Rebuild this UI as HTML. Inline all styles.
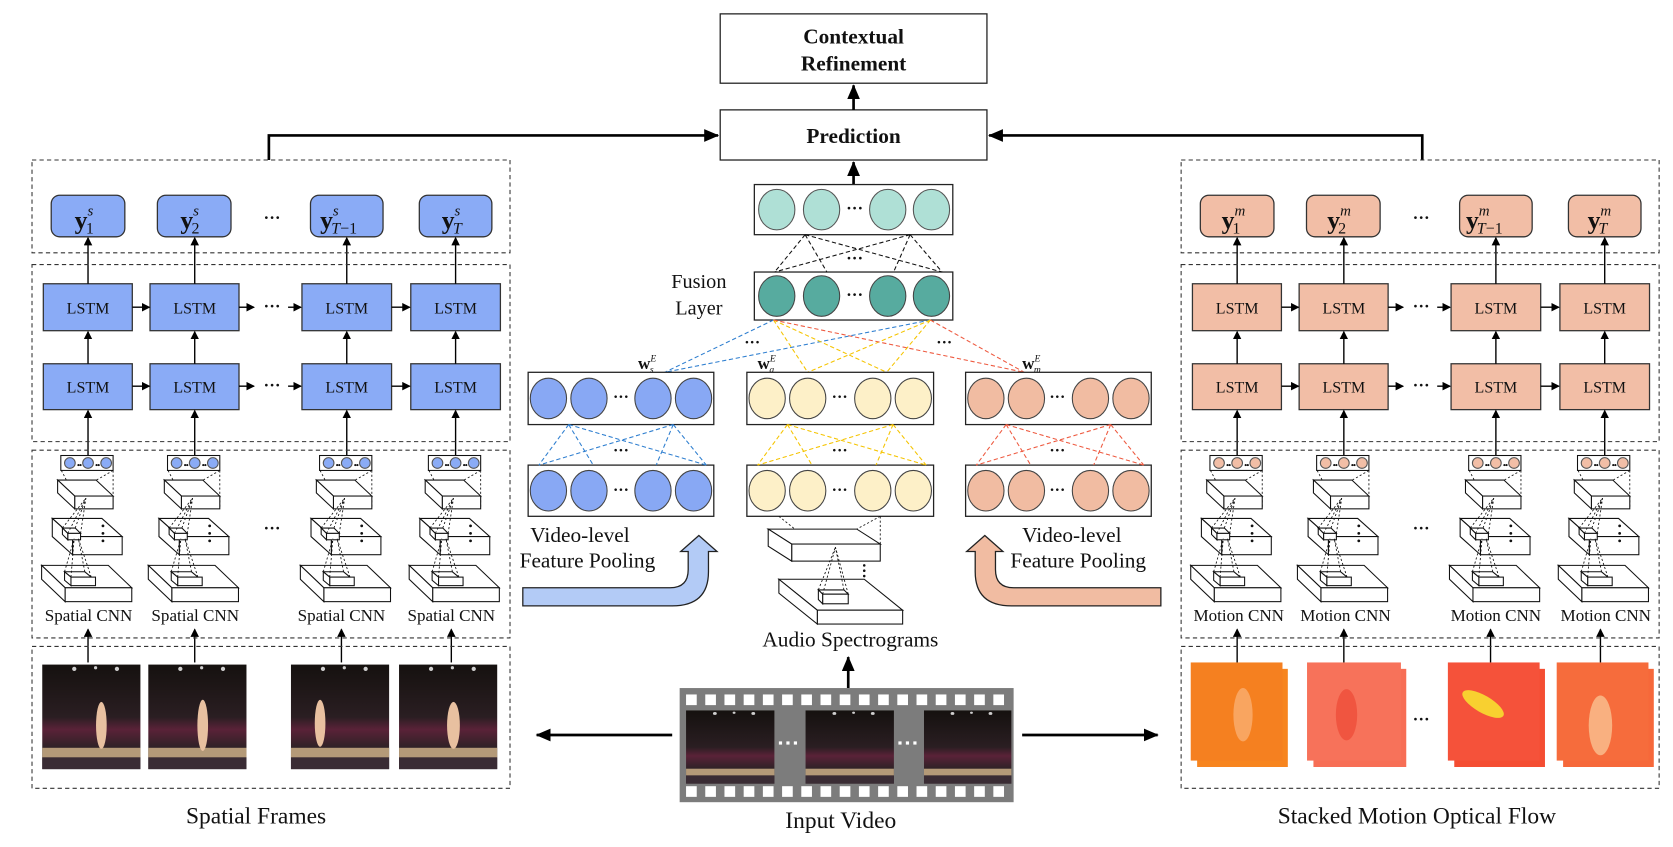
<!DOCTYPE html>
<html><head><meta charset="utf-8"><style>
html,body{margin:0;padding:0;background:#fff;}
svg{display:block;}
text{font-family:"Liberation Serif",serif;fill:#111;}
</style></head><body>
<svg width="1673" height="847" viewBox="0 0 1568 794" preserveAspectRatio="none" xmlns="http://www.w3.org/2000/svg">
<defs>
<marker id="ah" markerWidth="8" markerHeight="8" refX="7" refY="4" orient="auto" markerUnits="userSpaceOnUse"><path d="M0,0 L8,4 L0,8 z" fill="#000"/></marker>
<marker id="ahb" markerWidth="14" markerHeight="12" refX="13" refY="6" orient="auto" markerUnits="userSpaceOnUse"><path d="M0,0 L14,6 L0,12 z" fill="#000"/></marker>
<g id="cnn" fill="#fff" stroke="#111" stroke-width="1">
  <rect x="-25.5" y="427" width="49" height="14"/>
  <circle cx="-17" cy="434" r="5" fill="currentColor" stroke="#555"/>
  <circle cx="0" cy="434" r="5" fill="currentColor" stroke="#555"/>
  <circle cx="17" cy="434" r="5" fill="currentColor" stroke="#555"/>
  <g fill="#111" stroke="none"><circle cx="-9" cy="436" r="1"/><circle cx="-7" cy="436" r="1"/><circle cx="8" cy="436" r="1"/><circle cx="10" cy="436" r="1"/></g>
  <g stroke-dasharray="2,2" stroke-width="0.8"><line x1="-25" y1="441" x2="-12.5" y2="465"/><line x1="23.5" y1="441" x2="23.5" y2="477"/><line x1="23.5" y1="441" x2="8" y2="450"/></g>
  <!-- top slab -->
  <polygon points="-28.5,450 7.5,450 23.5,465 -12.5,465"/>
  <rect x="-12.5" y="465" width="36" height="12"/>
  <polygon points="-28.5,450 -12.5,465 -12.5,477 -28.5,462"/>
  <!-- mid slab -->
  <polygon points="-33.5,486 13,486 32,503 -14.5,503"/>
  <rect x="-14.5" y="503" width="46.5" height="17"/>
  <polygon points="-33.5,486 -14.5,503 -14.5,520 -33.5,503"/>
  <polygon points="-24,495 -12,495 -7,500 -19,500"/>
  <rect x="-19" y="500" width="12" height="6"/>
  <polygon points="-24,495 -19,500 -19,506 -24,501"/>
  <g stroke-dasharray="2,2" stroke-width="0.8"><line x1="-24" y1="495" x2="-2" y2="467"/><line x1="-12" y1="495" x2="-2" y2="467"/><line x1="-7" y1="500" x2="-2" y2="467"/><line x1="-19" y1="500" x2="-2" y2="467"/></g>
  <g fill="#111" stroke="none"><circle cx="14" cy="493" r="1.3"/><circle cx="14" cy="500" r="1.3"/><circle cx="14" cy="507" r="1.3"/></g>
  <!-- bottom slab -->
  <polygon points="-43.5,530 19,530 41,551 -21.5,551"/>
  <rect x="-21.5" y="551" width="62.5" height="13"/>
  <polygon points="-43.5,530 -21.5,551 -21.5,564 -43.5,543"/>
  <polygon points="-22,536 -3,536 3,541 -16,541"/>
  <rect x="-16" y="541" width="23" height="8"/>
  <polygon points="-22,536 -16,541 -16,549 -22,544"/>
  <g stroke-dasharray="2,2" stroke-width="0.8"><line x1="-22" y1="536" x2="-13" y2="505"/><line x1="-3" y1="536" x2="-9" y2="505"/><line x1="3" y1="541" x2="-9" y2="505"/><line x1="-16" y1="541" x2="-13" y2="505"/></g>
</g>
<g id="lstmcols" stroke="#333" stroke-width="1.2">
  <rect x="48" y="183" width="69" height="39" rx="8" fill="currentColor"/>
  <rect x="147.5" y="183" width="69" height="39" rx="8" fill="currentColor"/>
  <rect x="291" y="183" width="68" height="39" rx="8" fill="currentColor"/>
  <rect x="393" y="183" width="68" height="39" rx="8" fill="currentColor"/>
  <rect x="40.6" y="266" width="83.4" height="44" fill="currentColor"/>
  <rect x="140.6" y="266" width="83.4" height="44" fill="currentColor"/>
  <rect x="283" y="266" width="84" height="44" fill="currentColor"/>
  <rect x="385" y="266" width="84" height="44" fill="currentColor"/>
  <rect x="40.6" y="341" width="83.4" height="43" fill="currentColor"/>
  <rect x="140.6" y="341" width="83.4" height="43" fill="currentColor"/>
  <rect x="283" y="341" width="84" height="43" fill="currentColor"/>
  <rect x="385" y="341" width="84" height="43" fill="currentColor"/>
  <g stroke="#000" stroke-width="1.3" marker-end="url(#ah)">
    <line x1="82.5" y1="266" x2="82.5" y2="223"/><line x1="182.5" y1="266" x2="182.5" y2="223"/><line x1="325" y1="266" x2="325" y2="223"/><line x1="427" y1="266" x2="427" y2="223"/>
    <line x1="82.5" y1="341" x2="82.5" y2="311"/><line x1="182.5" y1="341" x2="182.5" y2="311"/><line x1="325" y1="341" x2="325" y2="311"/><line x1="427" y1="341" x2="427" y2="311"/>
    <line x1="82.5" y1="427" x2="82.5" y2="385"/><line x1="182.5" y1="427" x2="182.5" y2="385"/><line x1="325" y1="427" x2="325" y2="385"/><line x1="427" y1="427" x2="427" y2="385"/>
    <line x1="124" y1="288" x2="140" y2="288"/><line x1="224" y1="288" x2="238" y2="288"/><line x1="270" y1="288" x2="282" y2="288"/><line x1="367" y1="288" x2="384" y2="288"/>
    <line x1="124" y1="362" x2="140" y2="362"/><line x1="224" y1="362" x2="238" y2="362"/><line x1="270" y1="362" x2="282" y2="362"/><line x1="367" y1="362" x2="384" y2="362"/>
    <line x1="82.5" y1="621" x2="82.5" y2="590"/><line x1="182.5" y1="621" x2="182.5" y2="590"/><line x1="320" y1="621" x2="320" y2="590"/><line x1="423" y1="621" x2="423" y2="590"/>
  </g>
  <g fill="none" stroke="#333" stroke-width="1" stroke-dasharray="4,3">
    <rect x="30" y="150" width="448" height="87"/>
    <rect x="30" y="248" width="448" height="166"/>
    <rect x="30" y="422" width="448" height="176"/>
    <rect x="30" y="606" width="448" height="133"/>
  </g>
  <use href="#cnn" x="82.5"/><use href="#cnn" x="182.5"/><use href="#cnn" x="325"/><use href="#cnn" x="427"/>
</g>
<linearGradient id="dark" x1="0" y1="0" x2="0" y2="1">
  <stop offset="0" stop-color="#15110f"/><stop offset="0.5" stop-color="#2a1e22"/><stop offset="0.62" stop-color="#5a2238"/><stop offset="0.8" stop-color="#2d2226"/><stop offset="1" stop-color="#3a2a30"/>
</linearGradient>
<g id="gym">
  <rect x="0" y="0" width="92" height="98" fill="url(#dark)"/>
  <rect x="0" y="78" width="92" height="9" fill="#b49a78"/>
  <rect x="0" y="87" width="92" height="11" fill="#3a2c34"/>
  <g fill="#fff" opacity="0.8"><circle cx="30" cy="4" r="2"/><circle cx="50" cy="3" r="1.5"/><circle cx="70" cy="4" r="2"/></g>
</g>
</defs>

<!-- Top boxes -->
<rect x="675" y="13" width="250" height="65" fill="#fff" stroke="#222" stroke-width="1.2"/>
<text x="800" y="41" font-size="20" font-weight="bold" text-anchor="middle">Contextual</text>
<text x="800" y="66" font-size="20" font-weight="bold" text-anchor="middle">Refinement</text>
<rect x="675" y="103" width="250" height="47" fill="#fff" stroke="#222" stroke-width="1.2"/>
<text x="800" y="134" font-size="20" font-weight="bold" text-anchor="middle">Prediction</text>
<g stroke="#000" stroke-width="2.5" fill="none">
  <line x1="800" y1="103" x2="800" y2="80" marker-end="url(#ahb)"/>
  <line x1="800" y1="173" x2="800" y2="152" marker-end="url(#ahb)"/>
  <polyline points="252,150 252,127 673,127" marker-end="url(#ahb)"/>
  <polyline points="1333,150 1333,127 927,127" marker-end="url(#ahb)"/>
  <line x1="795" y1="645" x2="795" y2="616" marker-end="url(#ahb)"/>
  <line x1="630" y1="689" x2="503" y2="689" marker-end="url(#ahb)"/>
  <line x1="958" y1="689" x2="1085" y2="689" marker-end="url(#ahb)"/>
</g>

<!-- Left panel -->
<g color="#8aabf6"><use href="#lstmcols"/></g>
<g font-size="24" font-weight="bold">
  <text x="70" y="214">y<tspan font-size="14" font-style="italic" font-weight="normal" dy="-12">s</tspan><tspan font-size="15" font-weight="normal" dx="-7" dy="17">1</tspan></text>
  <text x="169" y="214">y<tspan font-size="14" font-style="italic" font-weight="normal" dy="-12">s</tspan><tspan font-size="15" font-weight="normal" dx="-7" dy="17">2</tspan></text>
  <text x="300" y="214">y<tspan font-size="14" font-style="italic" font-weight="normal" dy="-12">s</tspan><tspan font-size="15" font-weight="normal" font-style="italic" dx="-7" dy="17">T</tspan><tspan font-size="15" font-weight="normal" dy="0">−1</tspan></text>
  <text x="414" y="214">y<tspan font-size="14" font-style="italic" font-weight="normal" dy="-12">s</tspan><tspan font-size="15" font-style="italic" font-weight="normal" dx="-7" dy="17">T</tspan></text>
</g>
<g font-size="15" text-anchor="middle">
  <text x="82.5" y="294">LSTM</text><text x="182.5" y="294">LSTM</text><text x="325" y="294">LSTM</text><text x="427" y="294">LSTM</text>
  <text x="82.5" y="368">LSTM</text><text x="182.5" y="368">LSTM</text><text x="325" y="368">LSTM</text><text x="427" y="368">LSTM</text>
</g>
<g font-size="16" font-weight="bold" text-anchor="middle">
  <text x="255" y="209">···</text><text x="255" y="292">···</text><text x="255" y="366">···</text><text x="255" y="500">···</text><text x="1332" y="209">···</text><text x="1332" y="292">···</text><text x="1332" y="366">···</text><text x="1332" y="500">···</text><text x="1332" y="679">···</text>
</g>
<g font-size="16" text-anchor="middle">
  <text x="83" y="582">Spatial CNN</text><text x="183" y="582">Spatial CNN</text><text x="320" y="582">Spatial CNN</text><text x="423" y="582">Spatial CNN</text>
  <text x="1161" y="582">Motion CNN</text><text x="1261" y="582">Motion CNN</text><text x="1402" y="582">Motion CNN</text><text x="1505" y="582">Motion CNN</text>
</g>
<use href="#gym" x="39.6" y="623"/><use href="#gym" x="139" y="623"/><use href="#gym" x="272.7" y="623"/><use href="#gym" x="374" y="623"/>
<g fill="#e8c0a0"><ellipse cx="95" cy="680" rx="5" ry="22"/><ellipse cx="190" cy="680" rx="5" ry="24"/><ellipse cx="300" cy="678" rx="5" ry="22"/><ellipse cx="425" cy="680" rx="6" ry="22"/></g>
<text x="240" y="772" font-size="22" text-anchor="middle">Spatial Frames</text>

<!-- Right panel -->
<g transform="translate(1077,0)" color="#f2bea6"><use href="#lstmcols"/></g>
<g font-size="24" font-weight="bold">
  <text x="1145" y="214">y<tspan font-size="14" font-style="italic" font-weight="normal" dy="-12">m</tspan><tspan font-size="15" font-weight="normal" dx="-12" dy="17">1</tspan></text>
  <text x="1244" y="214">y<tspan font-size="14" font-style="italic" font-weight="normal" dy="-12">m</tspan><tspan font-size="15" font-weight="normal" dx="-12" dy="17">2</tspan></text>
  <text x="1374" y="214">y<tspan font-size="14" font-style="italic" font-weight="normal" dy="-12">m</tspan><tspan font-size="15" font-weight="normal" font-style="italic" dx="-12" dy="17">T</tspan><tspan font-size="15" font-weight="normal">−1</tspan></text>
  <text x="1488" y="214">y<tspan font-size="14" font-style="italic" font-weight="normal" dy="-12">m</tspan><tspan font-size="15" font-style="italic" font-weight="normal" dx="-12" dy="17">T</tspan></text>
</g>
<g font-size="15" text-anchor="middle">
  <text x="1159.5" y="294">LSTM</text><text x="1259.5" y="294">LSTM</text><text x="1402" y="294">LSTM</text><text x="1504" y="294">LSTM</text>
  <text x="1159.5" y="368">LSTM</text><text x="1259.5" y="368">LSTM</text><text x="1402" y="368">LSTM</text><text x="1504" y="368">LSTM</text>
</g>
<g>
  <rect x="1122" y="627" width="85" height="92" fill="#f7851f"/><rect x="1116" y="621" width="86" height="92" fill="#f58020"/>
  <rect x="1231" y="627" width="87" height="92" fill="#f76e55"/><rect x="1225" y="621" width="88" height="92" fill="#f7725a"/>
  <rect x="1363" y="627" width="85" height="92" fill="#f44d32"/><rect x="1357" y="621" width="86" height="92" fill="#f5523a"/>
  <rect x="1465" y="627" width="85" height="92" fill="#f6683a"/><rect x="1459" y="621" width="86" height="92" fill="#f66c3c"/>
  <ellipse cx="1165" cy="670" rx="9" ry="25" fill="#f9a560"/><ellipse cx="1262" cy="670" rx="10" ry="24" fill="#f05540"/>
  <ellipse cx="1390" cy="660" rx="22" ry="8" fill="#f8d030" transform="rotate(30 1390 660)"/><ellipse cx="1500" cy="680" rx="11" ry="28" fill="#f9b080"/>
</g>
<text x="1328" y="772" font-size="22" text-anchor="middle">Stacked Motion Optical Flow</text>

<!-- Center fusion -->
<rect x="707" y="173" width="186" height="47" fill="#fff" stroke="#222" stroke-width="1.2"/>
<g fill="#afe0d6" stroke="#555"><ellipse cx="728" cy="196.5" rx="17" ry="19"/><ellipse cx="770" cy="196.5" rx="17" ry="19"/><ellipse cx="832" cy="196.5" rx="17" ry="19"/><ellipse cx="873" cy="196.5" rx="17" ry="19"/></g>
<rect x="707" y="255" width="186" height="45" fill="#fff" stroke="#222" stroke-width="1.2"/>
<g fill="#57ab9f" stroke="#444"><ellipse cx="728" cy="277.5" rx="17" ry="19"/><ellipse cx="770" cy="277.5" rx="17" ry="19"/><ellipse cx="832" cy="277.5" rx="17" ry="19"/><ellipse cx="873" cy="277.5" rx="17" ry="19"/></g>
<g font-size="16" font-weight="bold" text-anchor="middle"><text x="801" y="200">···</text><text x="801" y="281">···</text><text x="801" y="247">···</text></g>
<g stroke="#111" stroke-width="1" stroke-dasharray="4,2.5">
  <line x1="754.6" y1="220" x2="726" y2="255"/><line x1="754.6" y1="220" x2="775" y2="255"/><line x1="754.6" y1="220" x2="883" y2="255"/>
  <line x1="853" y1="220" x2="837.5" y2="255"/><line x1="853" y1="220" x2="883" y2="255"/><line x1="853" y1="220" x2="726" y2="255"/>
</g>
<text x="655" y="270" font-size="19" text-anchor="middle">Fusion</text>
<text x="655" y="295" font-size="19" text-anchor="middle">Layer</text>
<g stroke-width="1" stroke-dasharray="4,2.5">
  <line x1="725" y1="300" x2="623" y2="349" stroke="#2f7fd0"/><line x1="872" y1="300" x2="623" y2="349" stroke="#2f7fd0"/>
  <line x1="725" y1="300" x2="757" y2="349" stroke="#f5c400"/><line x1="725" y1="300" x2="831" y2="349" stroke="#f5c400"/><line x1="872" y1="300" x2="757" y2="349" stroke="#f5c400"/><line x1="872" y1="300" x2="831" y2="349" stroke="#f5c400"/>
  <line x1="725" y1="300" x2="960" y2="349" stroke="#ee5a40"/><line x1="872" y1="300" x2="960" y2="349" stroke="#ee5a40"/>
</g>
<g font-size="15" font-weight="bold" text-anchor="middle"><text x="705" y="326">···</text><text x="885" y="326">···</text></g>
<g font-size="16" font-weight="bold">
  <text x="598" y="346">w<tspan font-size="9" font-weight="normal" font-style="italic" dy="-7">E</tspan><tspan font-size="9" font-weight="normal" font-style="italic" dx="-6" dy="10">s</tspan></text>
  <text x="710" y="346">w<tspan font-size="9" font-weight="normal" font-style="italic" dy="-7">E</tspan><tspan font-size="9" font-weight="normal" font-style="italic" dx="-6" dy="10">a</tspan></text>
  <text x="958" y="346">w<tspan font-size="9" font-weight="normal" font-style="italic" dy="-7">E</tspan><tspan font-size="9" font-weight="normal" font-style="italic" dx="-6" dy="10">m</tspan></text>
</g>
<!-- feature columns -->
<g stroke="#222" stroke-width="1.2" fill="#fff">
  <rect x="495" y="349" width="174" height="49"/><rect x="495" y="436" width="174" height="48"/>
  <rect x="700" y="349" width="175" height="49"/><rect x="700" y="436" width="175" height="48"/>
  <rect x="905" y="349" width="174" height="49"/><rect x="905" y="436" width="174" height="48"/>
</g>
<g stroke="#444" stroke-width="1">
  <g fill="#88a8f4"><ellipse cx="514" cy="373.5" rx="17" ry="19"/><ellipse cx="552" cy="373.5" rx="17" ry="19"/><ellipse cx="612" cy="373.5" rx="17" ry="19"/><ellipse cx="650" cy="373.5" rx="17" ry="19"/>
  <ellipse cx="514" cy="460" rx="17" ry="19"/><ellipse cx="552" cy="460" rx="17" ry="19"/><ellipse cx="612" cy="460" rx="17" ry="19"/><ellipse cx="650" cy="460" rx="17" ry="19"/></g>
  <g fill="#fdf0c8"><ellipse cx="719" cy="373.5" rx="17" ry="19"/><ellipse cx="757" cy="373.5" rx="17" ry="19"/><ellipse cx="818" cy="373.5" rx="17" ry="19"/><ellipse cx="856" cy="373.5" rx="17" ry="19"/>
  <ellipse cx="719" cy="460" rx="17" ry="19"/><ellipse cx="757" cy="460" rx="17" ry="19"/><ellipse cx="818" cy="460" rx="17" ry="19"/><ellipse cx="856" cy="460" rx="17" ry="19"/></g>
  <g fill="#f1bca2"><ellipse cx="924" cy="373.5" rx="17" ry="19"/><ellipse cx="962" cy="373.5" rx="17" ry="19"/><ellipse cx="1022" cy="373.5" rx="17" ry="19"/><ellipse cx="1060" cy="373.5" rx="17" ry="19"/>
  <ellipse cx="924" cy="460" rx="17" ry="19"/><ellipse cx="962" cy="460" rx="17" ry="19"/><ellipse cx="1022" cy="460" rx="17" ry="19"/><ellipse cx="1060" cy="460" rx="17" ry="19"/></g>
</g>
<g font-size="15" font-weight="bold" text-anchor="middle">
  <text x="582" y="377">···</text><text x="582" y="464">···</text><text x="787" y="377">···</text><text x="787" y="464">···</text><text x="991" y="377">···</text><text x="991" y="464">···</text>
  <text x="582" y="427">···</text><text x="787" y="427">···</text><text x="991" y="427">···</text>
</g>
<g stroke-width="1" stroke-dasharray="4,2.5">
  <g stroke="#2f7fd0"><line x1="533" y1="398" x2="505" y2="436"/><line x1="533" y1="398" x2="556" y2="436"/><line x1="533" y1="398" x2="662" y2="436"/><line x1="631" y1="398" x2="615" y2="436"/><line x1="631" y1="398" x2="662" y2="436"/><line x1="631" y1="398" x2="505" y2="436"/></g>
  <g stroke="#f5c400"><line x1="738" y1="398" x2="710" y2="436"/><line x1="738" y1="398" x2="761" y2="436"/><line x1="738" y1="398" x2="868" y2="436"/><line x1="837" y1="398" x2="821" y2="436"/><line x1="837" y1="398" x2="868" y2="436"/><line x1="837" y1="398" x2="710" y2="436"/></g>
  <g stroke="#ee5a40"><line x1="943" y1="398" x2="915" y2="436"/><line x1="943" y1="398" x2="966" y2="436"/><line x1="943" y1="398" x2="1072" y2="436"/><line x1="1041" y1="398" x2="1025" y2="436"/><line x1="1041" y1="398" x2="1072" y2="436"/><line x1="1041" y1="398" x2="915" y2="436"/></g>
</g>
<!-- pooling arrows -->
<path d="M490,551 L628,551 Q645,551 645,534 L645,517 L638,517 L655,502 L672,517 L664,517 L664,536 Q664,568 630,568 L490,568 Z" fill="#b3cbf6" stroke="#222" stroke-width="1.2"/>
<path d="M1088,551 L950,551 Q933,551 933,534 L933,517 L940,517 L923,502 L906,517 L914,517 L914,536 Q914,568 948,568 L1088,568 Z" fill="#f1bca2" stroke="#222" stroke-width="1.2"/>
<g font-size="20">
  <text x="497" y="508">Video-level</text><text x="487" y="532">Feature Pooling</text>
  <text x="958" y="508">Video-level</text><text x="947" y="532">Feature Pooling</text>
</g>
<!-- audio -->
<g fill="#fff" stroke="#111" stroke-width="1">
  <g stroke-dasharray="2,2" stroke-width="0.8"><line x1="730" y1="484" x2="745" y2="496"/><line x1="825" y1="484" x2="803" y2="496"/><line x1="825" y1="484" x2="825" y2="510"/></g>
  <polygon points="720,496 803,496 825,510 742,510"/><rect x="742" y="510" width="83" height="16"/><polygon points="720,496 742,510 742,526 720,512"/>
  <polygon points="730,543 810,543 846,572 766,572"/><rect x="766" y="572" width="80" height="13"/><polygon points="730,543 766,572 766,585 730,556"/>
  <polygon points="767,553 791,553 795,557 771,557"/><rect x="771" y="557" width="24" height="9"/><polygon points="767,553 771,557 771,566 767,562"/>
  <g stroke-dasharray="2,2" stroke-width="0.8"><line x1="767" y1="553" x2="783" y2="513"/><line x1="791" y1="553" x2="783" y2="513"/><line x1="795" y1="557" x2="783" y2="513"/><line x1="771" y1="557" x2="783" y2="513"/></g>
  <g fill="#111" stroke="none"><circle cx="810" cy="530" r="1.2"/><circle cx="810" cy="535" r="1.2"/><circle cx="810" cy="540" r="1.2"/></g>
</g>
<text x="797" y="606" font-size="20" text-anchor="middle">Audio Spectrograms</text>
<!-- film strip -->
<rect x="637" y="645" width="313" height="107" fill="#7c7c7c"/>
<g fill="#fff">
  <rect x="643" y="651" width="10" height="10"/><rect x="661" y="651" width="10" height="10"/><rect x="679" y="651" width="10" height="10"/><rect x="697" y="651" width="10" height="10"/><rect x="715" y="651" width="10" height="10"/><rect x="733" y="651" width="10" height="10"/><rect x="751" y="651" width="10" height="10"/><rect x="769" y="651" width="10" height="10"/><rect x="787" y="651" width="10" height="10"/><rect x="805" y="651" width="10" height="10"/><rect x="823" y="651" width="10" height="10"/><rect x="841" y="651" width="10" height="10"/><rect x="859" y="651" width="10" height="10"/><rect x="877" y="651" width="10" height="10"/><rect x="895" y="651" width="10" height="10"/><rect x="913" y="651" width="10" height="10"/><rect x="931" y="651" width="10" height="10"/>
  <rect x="643" y="737" width="10" height="10"/><rect x="661" y="737" width="10" height="10"/><rect x="679" y="737" width="10" height="10"/><rect x="697" y="737" width="10" height="10"/><rect x="715" y="737" width="10" height="10"/><rect x="733" y="737" width="10" height="10"/><rect x="751" y="737" width="10" height="10"/><rect x="769" y="737" width="10" height="10"/><rect x="787" y="737" width="10" height="10"/><rect x="805" y="737" width="10" height="10"/><rect x="823" y="737" width="10" height="10"/><rect x="841" y="737" width="10" height="10"/><rect x="859" y="737" width="10" height="10"/><rect x="877" y="737" width="10" height="10"/><rect x="895" y="737" width="10" height="10"/><rect x="913" y="737" width="10" height="10"/><rect x="931" y="737" width="10" height="10"/>
</g>
<g transform="translate(643,666) scale(0.9,0.7)"><use href="#gym"/></g>
<g transform="translate(755,666) scale(0.9,0.7)"><use href="#gym"/></g>
<g transform="translate(866,666) scale(0.89,0.7)"><use href="#gym"/></g>
<g fill="#fff"><rect x="730" y="695" width="3" height="3"/><rect x="737" y="695" width="3" height="3"/><rect x="744" y="695" width="3" height="3"/><rect x="842" y="695" width="3" height="3"/><rect x="849" y="695" width="3" height="3"/><rect x="856" y="695" width="3" height="3"/></g>
<text x="788" y="776" font-size="22" text-anchor="middle">Input Video</text>
</svg>
</body></html>
